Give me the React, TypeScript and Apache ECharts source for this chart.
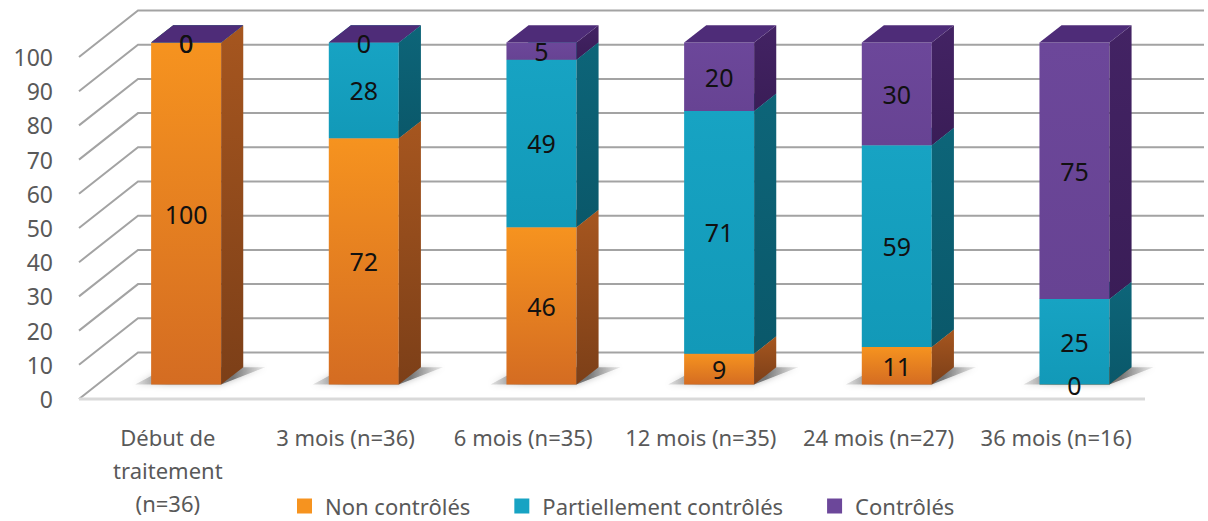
import React, { useEffect, useRef } from "react";
import * as echarts from "echarts";

const categories = [
  "Début de\ntraitement\n(n=36)",
  "3 mois (n=36)",
  "6 mois (n=35)",
  "12 mois (n=35)",
  "24 mois (n=27)",
  "36 mois (n=16)",
];
const seriesNames = ["Non contrôlés", "Partiellement contrôlés", "Contrôlés"];
const nonControles = [100, 72, 46, 9, 11, 0];
const partiellementControles = [0, 28, 49, 71, 59, 25];
const controles = [0, 0, 5, 20, 30, 75];
const yTicks = [0, 10, 20, 30, 40, 50, 60, 70, 80, 90, 100];

const FONT = "'Noto Sans', 'Open Sans', sans-serif";

// 3D projection parameters (depth vector of the whole floor, bar depth slots)
const DX = 59;
const DY = -46.5;
const F1 = 0.31;
const F2 = 0.685;
const BAR_RATIO = 0.394;

const palettes = [
  { front: ["#F6931F", "#D46C22"], side: ["#A6561F", "#7C3F18"], top: "#C4692B" },
  { front: ["#17A3C3", "#1299B8"], side: ["#0D6579", "#0A586A"], top: "#0E7F98" },
  { front: ["#6C479A", "#674393"], side: ["#432364", "#3A1D57"], top: "#4E2C78" },
];

const lin = (a: string, b: string) =>
  new echarts.graphic.LinearGradient(0, 0, 0, 1, [
    { offset: 0, color: a },
    { offset: 1, color: b },
  ]);

export default function App() {
  const ref = useRef<HTMLDivElement>(null);

  useEffect(() => {
    if (!ref.current) return;
    const chart = echarts.init(ref.current, null, { renderer: "svg" });
    const valuesBySeries = [nonControles, partiellementControles, controles];
    const totals = categories.map((_, i) =>
      valuesBySeries.reduce((s, arr) => s + arr[i], 0)
    );
    const lastIdx = categories.length - 1;

    const wallSeries = {
      type: "custom",
      name: "wall",
      z: 1,
      silent: true,
      data: yTicks.map((v) => [0, v]),
      encode: { x: 0, y: 1 },
      renderItem: (params: any, api: any) => {
        const v = api.value(1);
        const bw = api.size([1, 0])[0];
        const pL = api.coord([0, v]);
        const pR = api.coord([lastIdx, v]);
        const xl = pL[0] - bw / 2;
        const xr = pR[0] + bw / 2;
        const y = pL[1];
        const children: any[] = [
          {
            type: "polyline",
            shape: {
              points: [
                [xl, y],
                [xl + DX, y + DY],
                [xr + DX, y + DY],
              ],
            },
            style: { stroke: "#A3A3A3", lineWidth: 2, fill: "none" },
          },
        ];
        if (v === 0) {
          children.push({
            type: "line",
            shape: { x1: xl, y1: y, x2: xr, y2: y },
            style: { stroke: "#D9D9D9", lineWidth: 3 },
          });
        }
        return { type: "group", children };
      },
    };

    const shadowSeries = {
      type: "custom",
      name: "shadow",
      z: 2,
      silent: true,
      data: totals.map((t, i) => [i, t]),
      encode: { x: 0, y: 1 },
      renderItem: (params: any, api: any) => {
        const ci = api.value(0);
        const bw = api.size([1, 0])[0];
        const w = bw * BAR_RATIO;
        const c0 = api.coord([ci, 0]);
        const xl = c0[0] - w / 2 + DX * F1;
        const xr = c0[0] + w / 2 + DX * F1;
        const yb = c0[1] + DY * F1;
        const sx = DX * (F2 - F1);
        const sy = DY * (F2 - F1);
        return {
          type: "polygon",
          shape: {
            points: [
              [xl - 16, yb],
              [xr, yb],
              [xr + sx + 22, yb + sy],
              [xl + sx - 6, yb + sy],
            ],
          },
          style: {
            fill: new echarts.graphic.LinearGradient(0, 0, 1, 0, [
              { offset: 0, color: "rgba(150,150,150,0.25)" },
              { offset: 0.25, color: "rgba(100,100,100,0.85)" },
              { offset: 0.75, color: "rgba(100,100,100,0.85)" },
              { offset: 1, color: "rgba(150,150,150,0.2)" },
            ]),
            shadowBlur: 6,
            shadowColor: "rgba(0,0,0,0.3)",
          },
        };
      },
    };

    const barSeries = valuesBySeries.map((vals, si) => {
      const pal = palettes[si];
      return {
        type: "custom",
        name: seriesNames[si],
        z: 3,
        itemStyle: { color: pal.front[0] },
        data: vals.map((v, i) => {
          let base = 0;
          for (let k = 0; k < si; k++) base += valuesBySeries[k][i];
          return [i, base, v];
        }),
        encode: { x: 0, y: 2 },
        renderItem: (params: any, api: any) => {
          const ci = api.value(0);
          const base = api.value(1);
          const val = api.value(2);
          const bw = api.size([1, 0])[0];
          const w = bw * BAR_RATIO;
          const c0 = api.coord([ci, base]);
          const c1 = api.coord([ci, base + val]);
          const xl = c0[0] - w / 2 + DX * F1;
          const xr = c0[0] + w / 2 + DX * F1;
          const yb = c0[1] + DY * F1;
          const yt = c1[1] + DY * F1;
          const sx = DX * (F2 - F1);
          const sy = DY * (F2 - F1);
          const children: any[] = [];
          if (val > 0) {
            children.push({
              type: "polygon",
              shape: { points: [[xl, yb], [xr, yb], [xr, yt], [xl, yt]] },
              style: { fill: lin(pal.front[0], pal.front[1]) },
            });
            children.push({
              type: "polygon",
              shape: {
                points: [
                  [xr, yb],
                  [xr + sx, yb + sy],
                  [xr + sx, yt + sy],
                  [xr, yt],
                ],
              },
              style: { fill: lin(pal.side[0], pal.side[1]) },
            });
          }
          children.push({
            type: "polygon",
            shape: {
              points: [
                [xl, yt],
                [xr, yt],
                [xr + sx, yt + sy],
                [xl + sx, yt + sy],
              ],
            },
            style: { fill: pal.top },
          });
          children.push({
            type: "text",
            z2: 100,
            x: (xl + xr) / 2,
            y: (yb + yt) / 2,
            style: {
              text: String(val),
              fontFamily: FONT,
              fontSize: 25,
              fill: "#111111",
              align: "center",
              verticalAlign: "middle",
            },
          });
          return { type: "group", children };
        },
      };
    });

    chart.setOption({
      animation: false,
      backgroundColor: "#FFFFFF",
      grid: { left: 79, right: 63, top: 57, bottom: 122 },
      legend: {
        data: seriesNames,
        left: 297,
        top: 494,
        padding: 0,
        icon: "rect",
        itemWidth: 15,
        itemHeight: 15,
        itemGap: 44,
        textStyle: {
          fontFamily: FONT,
          fontSize: 22,
          lineHeight: 24,
          color: "#595959",
          padding: [0, 0, 0, 8],
        },
      },
      xAxis: {
        type: "category",
        data: categories,
        boundaryGap: true,
        axisLine: { show: false },
        axisTick: { show: false },
        splitLine: { show: false },
        axisLabel: {
          interval: 0,
          margin: 21,
          fontFamily: FONT,
          fontSize: 22,
          lineHeight: 33,
          color: "#595959",
        },
      },
      yAxis: {
        type: "value",
        min: 0,
        max: 100,
        interval: 10,
        axisLine: { show: false },
        axisTick: { show: false },
        splitLine: { show: false },
        axisLabel: {
          margin: 26,
          fontFamily: FONT,
          fontSize: 23,
          color: "#595959",
        },
      },
      series: [wallSeries, shadowSeries, ...barSeries],
    });

    return () => chart.dispose();
  }, []);

  return (
    <div
      ref={ref}
      style={{ position: "fixed", left: 0, top: 0, width: 1208, height: 521 }}
    />
  );
}
